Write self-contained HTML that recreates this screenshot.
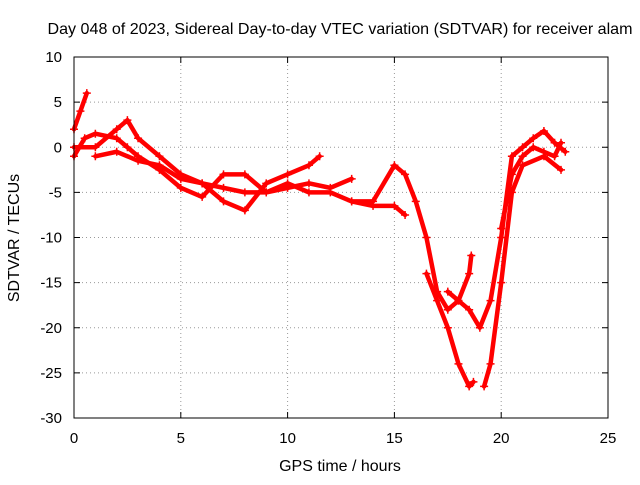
<!DOCTYPE html>
<html><head><meta charset="utf-8"><style>
body{margin:0;background:#fff}
svg text{font-family:"Liberation Sans",sans-serif;font-size:15px;fill:#000}
svg text.big{font-size:16px}
</style></head><body>
<svg id="chart" width="640" height="480" viewBox="0 0 640 480" xmlns="http://www.w3.org/2000/svg">
<rect width="640" height="480" fill="#fff"/>
<text class="big" x="340" y="34" text-anchor="middle" textLength="585" lengthAdjust="spacingAndGlyphs">Day 048 of 2023, Sidereal Day-to-day VTEC variation (SDTVAR) for receiver alam</text>
<g id="grid"></g>
<g id="ticks"></g>
<g id="series"></g>
<rect x="74" y="57" width="534" height="361" fill="none" stroke="#000" stroke-width="1"/>
<text class="big" x="340" y="471" text-anchor="middle">GPS time / hours</text>
<text class="big" x="0" y="0" text-anchor="middle" transform="translate(19,238) rotate(-90)">SDTVAR / TECUs</text>
</svg>
<script>
const xTicks=[0,5,10,15,20,25];
const yTicks=[10,5,0,-5,-10,-15,-20,-25,-30];
const trackA=[[0,-1],[0.5,1],[1,1.5],[2,1],[2.5,0],[3,-1],[4,-2.5],[5,-4.5],[6,-5.5],[7,-3],[8,-3],[9,-5],[10,-4],[11,-5],[12,-5],[13,-6],[14,-6],[15,-2],[15.5,-3],[16,-6],[16.5,-10],[17,-16],[17.5,-18],[18,-17],[18.5,-18],[19,-20],[19.5,-17],[20,-10],[20.5,-1],[21,0],[21.5,1],[22,1.8],[22.5,0.5],[23,-0.5]];
const trackB=[[0,2],[0.3,4],[0.6,6]];
const trackC=[[0,0],[1,0],[2,2],[2.5,3],[3,1],[4,-1],[5,-3],[6,-4],[7,-6],[8,-7],[9,-4],[10,-3],[11,-2],[11.5,-1]];
const trackD=[[1,-1],[2,-0.5],[3,-1.5],[4,-2],[5,-3.5],[6,-4],[7,-4.5],[8,-5],[9,-5],[10,-4.5],[11,-4],[12,-4.5],[13,-3.5]];
const trackE=[[16.5,-14],[17,-17],[17.5,-20],[18,-24],[18.5,-26.5],[18.7,-26]];
const trackE2=[[17.5,-16],[18,-17],[18.5,-14],[18.6,-12]];
const trackF=[[19.2,-26.5],[19.5,-24],[20,-15],[20.5,-5],[21,-2],[22,-1],[22.8,-2.5]];
const trackG=[[13,-6],[14,-6.5],[15,-6.5],[15.5,-7.5]];
const trackH=[[20,-9],[20.5,-3],[21,-1],[21.5,0],[22,-0.5],[22.5,-1],[22.8,0.5]];
const tracks=[trackA,trackB,trackC,trackD,trackE,trackE2,trackF,trackG,trackH];
const X=v=>74+v*534/25, Y=v=>57+(10-v)*361/40;
const NS='http://www.w3.org/2000/svg';
const grid=document.getElementById('grid'),ticks=document.getElementById('ticks'),ser=document.getElementById('series');
function mk(tag,attrs,parent){const e=document.createElementNS(NS,tag);for(const k in attrs)e.setAttribute(k,attrs[k]);parent.appendChild(e);return e;}
xTicks.forEach(t=>{const x=X(t);
 if(t>0&&t<25){const l=mk('line',{x1:x,x2:x,y1:57,y2:418,stroke:'#999','stroke-dasharray':'1,3'},grid);}
 const a=mk('line',{x1:x,x2:x,y1:418,y2:412,stroke:'#000'},ticks);
 const b=mk('line',{x1:x,x2:x,y1:57,y2:63,stroke:'#000'},ticks);
 const tx=mk('text',{x:x,y:443,'text-anchor':'middle'},ticks);tx.textContent=t;});
yTicks.forEach(t=>{const y=Y(t);
 if(t<10&&t>-30){const l=mk('line',{x1:74,x2:608,y1:y,y2:y,stroke:'#999','stroke-dasharray':'1,3'},grid);}
 const a=mk('line',{x1:74,x2:80,y1:y,y2:y,stroke:'#000'},ticks);
 const b=mk('line',{x1:602,x2:608,y1:y,y2:y,stroke:'#000'},ticks);
 const tx=mk('text',{x:62,y:y+5,'text-anchor':'end'},ticks);tx.textContent=t;});
tracks.forEach(tr=>{
 const p=mk('polyline',{points:tr.map(d=>X(d[0])+','+Y(d[1])).join(' '),fill:'none',stroke:'#f00','stroke-width':4.5,'stroke-linejoin':'round','stroke-linecap':'round'},ser);
 
 
 tr.forEach(d=>{const x=X(d[0]),y=Y(d[1]);
  const m=mk('path',{d:`M${x-4},${y}h8M${x},${y-4}v8`,stroke:'#f00','stroke-width':1.5},ser);
  
  });
});
</script>
</body></html>
